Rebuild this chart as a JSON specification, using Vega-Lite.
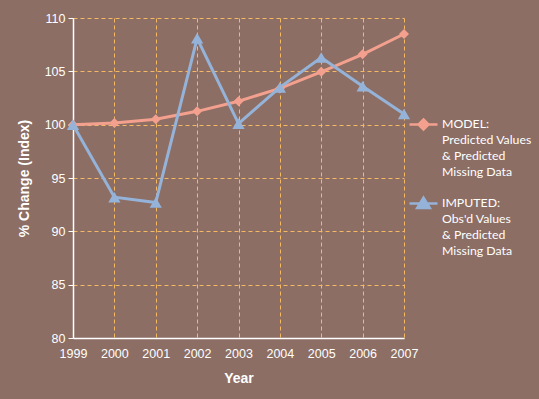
{
  "$schema": "https://vega.github.io/schema/vega-lite/v6.json",
  "width": 331,
  "height": 320,
  "autosize": "none",
  "padding": {"left": 73, "top": 18, "right": 135, "bottom": 61},
  "background": "#8C6E64",
  "config": {"view": {"stroke": null}, "font": "Liberation Sans"},
  "data": {
    "values": [
      {"year": 1999, "series": "MODEL", "value": 100.0},
      {"year": 2000, "series": "MODEL", "value": 100.15},
      {"year": 2001, "series": "MODEL", "value": 100.5},
      {"year": 2002, "series": "MODEL", "value": 101.25},
      {"year": 2003, "series": "MODEL", "value": 102.2},
      {"year": 2004, "series": "MODEL", "value": 103.4},
      {"year": 2005, "series": "MODEL", "value": 104.95},
      {"year": 2006, "series": "MODEL", "value": 106.6},
      {"year": 2007, "series": "MODEL", "value": 108.5},
      {"year": 1999, "series": "IMPUTED", "value": 100.0},
      {"year": 2000, "series": "IMPUTED", "value": 93.2},
      {"year": 2001, "series": "IMPUTED", "value": 92.7},
      {"year": 2002, "series": "IMPUTED", "value": 108.1},
      {"year": 2003, "series": "IMPUTED", "value": 100.1},
      {"year": 2004, "series": "IMPUTED", "value": 103.5},
      {"year": 2005, "series": "IMPUTED", "value": 106.3},
      {"year": 2006, "series": "IMPUTED", "value": 103.6},
      {"year": 2007, "series": "IMPUTED", "value": 101.0}
    ]
  },
  "encoding": {
    "x": {
      "field": "year", "type": "quantitative",
      "scale": {"domain": [1999, 2007], "nice": false, "zero": false},
      "axis": {
        "values": [1999, 2000, 2001, 2002, 2003, 2004, 2005, 2006, 2007],
        "format": "d", "title": "Year",
        "domainColor": "#FFFFFF", "domainWidth": 1.5,
        "ticks": false, "labelPadding": 9, "labelFlush": false, "labelOverlap": false,
        "labelColor": "#FFFFFF", "labelFontSize": 12.5,
        "titleColor": "#FFFFFF", "titleFontSize": 14, "titleFontWeight": "bold", "titlePadding": 12,
        "grid": true, "gridColor": "#F5B964", "gridDash": [4, 3], "gridWidth": 1
      }
    },
    "y": {
      "field": "value", "type": "quantitative",
      "scale": {"domain": [80, 110], "nice": false, "zero": false},
      "axis": {
        "values": [80, 85, 90, 95, 100, 105, 110],
        "title": "% Change (Index)",
        "domainColor": "#FFFFFF", "domainWidth": 1.5,
        "tickColor": "#FFFFFF", "tickSize": 5, "labelPadding": 3, "labelFlush": false,
        "labelColor": "#FFFFFF", "labelFontSize": 12.5,
        "titleColor": "#FFFFFF", "titleFontSize": 14, "titleFontWeight": "bold", "titlePadding": 13,
        "grid": true, "gridColor": "#F5B964", "gridDash": [4, 3], "gridWidth": 1
      }
    },
    "color": {
      "field": "series", "type": "nominal",
      "scale": {"domain": ["MODEL", "IMPUTED"], "range": ["#F4A08E", "#95B3D9"]},
      "legend": {
        "title": null, "orient": "none", "legendX": 335, "legendY": 91,
        "direction": "vertical",
        "symbolSize": 784,
        "labelFont": "Lato", "labelFontSize": 12.3, "labelColor": "#FFFFFF",
        "labelLimit": 0, "labelOffset": 3, "labelBaseline": "top", "rowPadding": 9,
        "labelExpr": "datum.value === 'MODEL' ? ['MODEL:', 'Predicted Values', '& Predicted', 'Missing Data'] : ['IMPUTED:', \"Obs'd Values\", '& Predicted', 'Missing Data']",
        "encode": {
          "symbols": {"update": {
            "shape": {"signal": "datum.value === 'MODEL' ? 'M-1,0H1M0,-0.36L0.36,0L0,0.36L-0.36,0Z' : 'M-1,0H1M0,-0.42L0.45,0.32L-0.45,0.32Z'"},
            "strokeWidth": {"value": 2.5},
            "fill": {"scale": "color", "field": "value"},
            "stroke": {"scale": "color", "field": "value"},
            "opacity": {"value": 1}
          }},
          "labels": {"update": {"dy": {"value": -7}, "lineHeight": {"value": 16.3}}}
        }
      }
    }
  },
  "layer": [
    {"mark": {"type": "line", "strokeWidth": 3}},
    {
      "transform": [{"filter": "datum.series === 'MODEL'"}],
      "mark": {"type": "point", "filled": true, "opacity": 1, "shape": "diamond", "size": 100}
    },
    {
      "transform": [{"filter": "datum.series === 'IMPUTED'"}],
      "mark": {"type": "point", "filled": true, "opacity": 1, "shape": "triangle-up", "size": 150}
    }
  ]
}
